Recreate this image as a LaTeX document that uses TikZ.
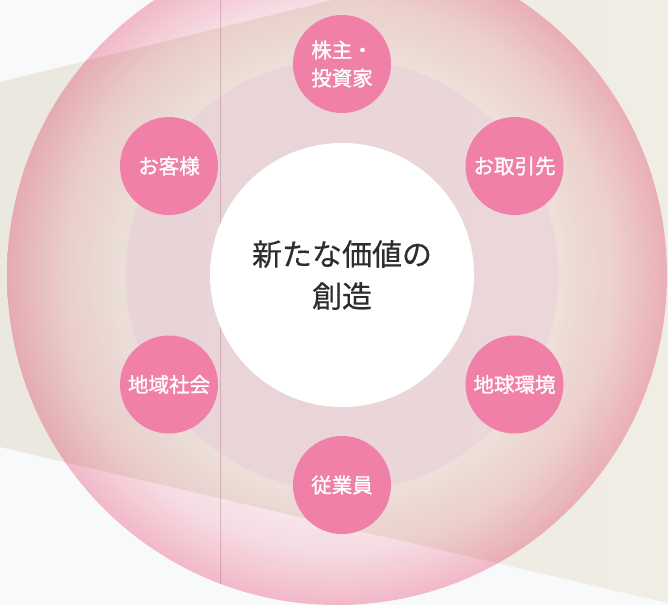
\documentclass[tikz,border=0pt]{standalone}
\usepackage{fontspec}
\setmainfont{Noto Sans CJK JP}
\newfontfamily\satfont[FakeBold=1.2]{Noto Sans CJK JP}
\newfontfamily\corefont[FakeBold=0.4]{Noto Sans CJK JP}
\definecolor{bgwhite}{RGB}{248,249,251}
\definecolor{beigeL}{RGB}{235,232,224}
\definecolor{beigeR}{RGB}{240,237,228}
\definecolor{satpink}{RGB}{241,128,169}
\definecolor{textdark}{RGB}{45,45,45}
\definecolor{chordcol}{rgb}{0.9,0.82,0.86}
\definecolor{disktint}{rgb}{0.988,0.957,0.995}
\pgfdeclareradialshading{ringshade}{\pgfpoint{0bp}{0bp}}{%
rgb(0bp)=(0.995,0.955,0.96);
rgb(16.4bp)=(0.995,0.955,0.96);
rgb(21bp)=(0.99,0.88,0.9);
rgb(25bp)=(0.975,0.74,0.8);
rgb(50bp)=(0.975,0.74,0.8)}
\tikzset{
  satnode/.style={circle, fill=satpink, minimum size=98pt, inner sep=0pt,
    text=white, align=center, font=\satfont\fontsize{20.5}{28}\selectfont},
  corenode/.style={circle, fill=white, minimum size=264pt, inner sep=0pt,
    text=textdark, align=center, font=\corefont\fontsize{30}{42}\selectfont},
}
\begin{document}
\begin{tikzpicture}[x=1pt,y=-1pt]
\useasboundingbox (0,0) rectangle (668,605);
% background
\fill[bgwhite] (0,0) rectangle (668,605);
\shade[left color=beigeL, right color=beigeR] (0,82) -- (333,0) -- (668,0) -- (668,603) -- (0,447) -- cycle;
% big ring
\begin{scope}[blend mode=multiply]
  \shade[shading=ringshade] (337,275) circle[radius=330pt];
  \fill[disktint] (342,275) circle[radius=216pt];
  \coordinate (vt) at (220,-34);
  \coordinate (vb) at (220,583.5);
  \draw[chordcol, line width=1pt] (vt) -- (vb);
\end{scope}
% center
\node[corenode] (core) at (342,275) {新たな価値の\\創造};
% satellites
\node[satnode] (s1) at (342,64) {株主・\\投資家};
\node[satnode] (s2) at (514.5,166) {お取引先};
\node[satnode] (s3) at (514.5,384.5) {地球環境};
\node[satnode] (s4) at (342,485) {従業員};
\node[satnode] (s5) at (169,384.5) {地域社会};
\node[satnode] (s6) at (169,166) {お客様};
\end{tikzpicture}
\end{document}
